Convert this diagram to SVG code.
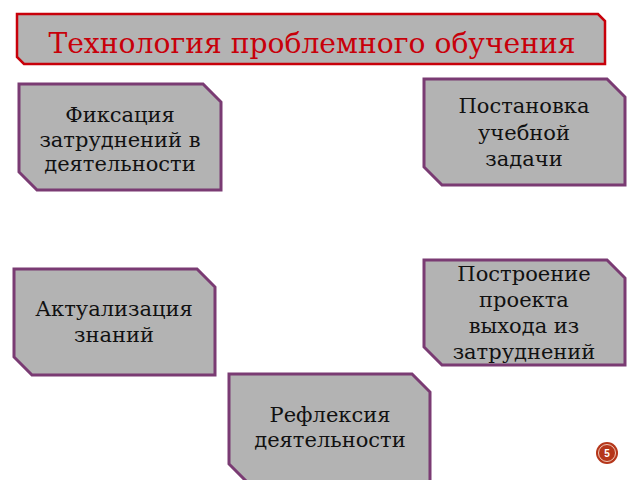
<svg xmlns="http://www.w3.org/2000/svg" width="640" height="480" viewBox="0 0 640 480">
<style>
.box{fill:#b3b3b3;stroke:#7a3b73;stroke-width:3;stroke-linejoin:miter}
.t{font-family:"DejaVu Serif",serif;font-size:21px;fill:#111;text-anchor:middle}
</style>
<rect width="640" height="480" fill="#fff"/>
<g id="title">
<path d="M17,14 H598 L605,21 V64 H24 L17,57 Z" fill="#b3b3b3" stroke="#c8000a" stroke-width="2.5"/>
<text x="312" y="53" font-family="DejaVu Serif,serif" font-size="28.2" fill="#c8000a" text-anchor="middle">Технология проблемного обучения</text>
</g>
<g id="connectors"></g>
<g id="n-fix">
<path class="box" d="M19,84 H203 L221,102 V190 H37 L19,172 Z"/>
<text class="t" x="120" y="122">Фиксация</text>
<text class="t" x="120" y="147">затруднений в</text>
<text class="t" x="120" y="171">деятельности</text>
</g>
<g id="n-post">
<path class="box" d="M424,79 H607 L625,97 V185 H442 L424,167 Z"/>
<text class="t" x="524" y="113">Постановка</text>
<text class="t" x="524" y="140">учебной</text>
<text class="t" x="524" y="166">задачи</text>
</g>
<g id="n-akt">
<path class="box" d="M14,269 H197 L215,287 V375 H32 L14,357 Z"/>
<text class="t" x="114" y="316">Актуализация</text>
<text class="t" x="114" y="342">знаний</text>
</g>
<g id="n-build">
<path class="box" d="M424,260 H607 L625,278 V365 H442 L424,347 Z"/>
<text class="t" x="524" y="281">Построение</text>
<text class="t" x="524" y="307">проекта</text>
<text class="t" x="524" y="333">выхода из</text>
<text class="t" x="524" y="359">затруднений</text>
</g>
<g id="n-refl">
<path class="box" d="M229,374 H412 L430,392 V482 H247 L229,464 Z"/>
<text class="t" x="330" y="422">Рефлексия</text>
<text class="t" x="330" y="447">деятельности</text>
</g>
<g id="badge">
<circle cx="607" cy="453" r="11" fill="#b5361a"/>
<circle cx="607" cy="453" r="8.5" fill="none" stroke="#f0c8b8" stroke-width="1"/>
<text x="607" y="457" font-family="Liberation Sans,sans-serif" font-size="10" font-weight="bold" fill="#fff" text-anchor="middle">5</text>
</g>
</svg>
